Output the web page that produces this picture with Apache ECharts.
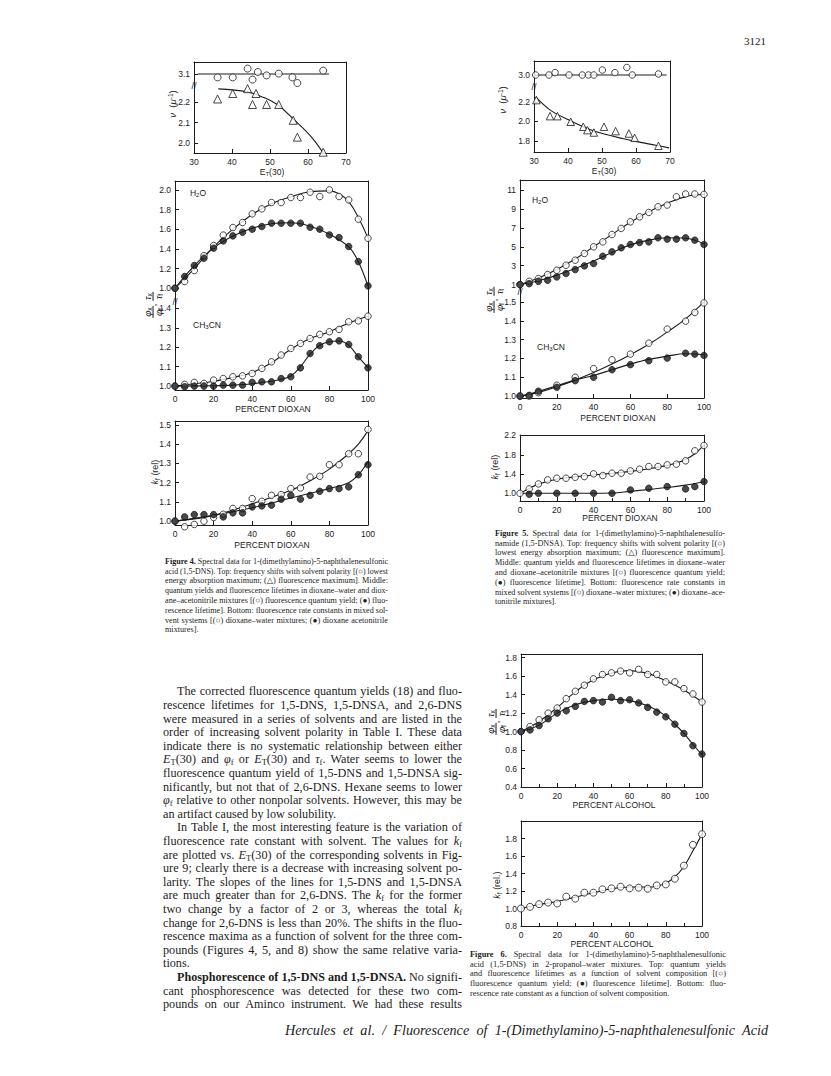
<!DOCTYPE html>
<html><head><meta charset="utf-8">
<script src="https://cdn.jsdelivr.net/npm/echarts@6/dist/echarts.min.js"></script>
<style>
html,body{margin:0;padding:0;background:#fff;}
#page{position:relative;width:831px;height:1076px;overflow:hidden;background:#fff;}
#chart{position:absolute;left:0;top:0;width:831px;height:1076px;}
.j{position:absolute;font-family:"Liberation Serif","DejaVu Serif",serif;color:#1c1c1c;white-space:nowrap;transform-origin:0 50%;}
.lab{position:absolute;font-family:"Liberation Sans","DejaVu Sans",sans-serif;color:#1c1c1c;white-space:nowrap;transform:translate(-50%,-50%);font-size:8.5px;}
.rot{transform:translate(-50%,-50%) rotate(-90deg);}
sub{font-size:70%;vertical-align:-0.25em;line-height:0;}
sup{font-size:70%;vertical-align:0.45em;line-height:0;}
.fr{display:inline-flex;flex-direction:column;align-items:center;vertical-align:middle;line-height:1.05;}
.fr .nu{border-bottom:1px solid #1c1c1c;padding:0 1px;}
</style></head>
<body><div id="page"><div id="chart"></div></div>
<script>
// ---------------- DATA ----------------
// Figure 4 (1,5-DNS) top: frequency vs ET(30)
const f4AbsEt = [36.2, 40.2, 44.1, 45.4, 46.8, 49.1, 52.3, 55.9, 57.2, 64.0];
const f4AbsNu = [3.083, 3.083, 3.127, 3.072, 3.11, 3.093, 3.102, 3.083, 3.055, 3.117];
const f4AbsFitEt = [31, 65.5];
const f4AbsFitNu = [3.1, 3.1];
const f4FlEt = [36.2, 40.2, 44.1, 45.4, 46.3, 49.1, 52.3, 56.1, 57.2, 64.0];
const f4FlNu = [2.216, 2.243, 2.267, 2.189, 2.243, 2.189, 2.189, 2.111, 2.028, 1.954];
const f4FlFitEt = [36.4, 44.1, 47.5, 51.9, 56.3, 60.7, 64.0];
const f4FlFitNu = [2.266, 2.251, 2.23, 2.189, 2.115, 2.033, 1.95];
// percent axis (dioxan / alcohol), 5 % steps
const pct = [0,5,10,15,20,25,30,35,40,45,50,55,60,65,70,75,80,85,90,95,100];
// Figure 4 middle
const f4H2OPhi = [1.0,1.068,1.18,1.33,1.434,1.54,1.617,1.668,1.756,1.807,1.871,1.871,1.922,1.922,1.976,1.932,2.0,1.932,1.898,1.702,1.508];
const f4H2OTau = [1.0,1.119,1.231,1.305,1.407,1.481,1.532,1.569,1.6,1.627,1.661,1.661,1.661,1.661,1.62,1.6,1.542,1.515,1.424,1.271,1.024];
const f4H2OPhiFitX = [0,10,20,30,40,50,60,70,80,85,90,95,100];
const f4H2OPhiFitY = [1.0,1.2,1.42,1.6,1.75,1.86,1.93,1.98,1.99,1.96,1.88,1.72,1.51];
const f4H2OTauFitX = [0,10,20,30,40,50,60,70,80,90,95,100];
const f4H2OTauFitY = [1.0,1.23,1.41,1.53,1.61,1.655,1.665,1.63,1.55,1.42,1.27,1.02];
const f4AcnPhi = [1.0,1.009,1.019,1.014,1.031,1.039,1.048,1.053,1.065,1.091,1.125,1.16,1.194,1.22,1.245,1.266,1.28,1.292,1.331,1.336,1.36];
const f4AcnTau = [1.0,0.997,1.0,1.0,1.0,1.005,1.005,1.005,1.019,1.022,1.022,1.039,1.048,1.094,1.168,1.208,1.228,1.233,1.214,1.151,1.094];
const f4AcnPhiFitX = [0,10,20,30,40,50,60,70,80,90,100];
const f4AcnPhiFitY = [1.0,1.012,1.025,1.045,1.07,1.12,1.19,1.245,1.28,1.325,1.36];
const f4AcnTauFitX = [0,20,30,40,50,55,60,65,70,75,80,85,90,95,100];
const f4AcnTauFitY = [1.0,1.002,1.005,1.012,1.025,1.035,1.052,1.1,1.165,1.21,1.228,1.232,1.21,1.15,1.095];
// Figure 4 bottom: kf (rel)
const f4KfWater = [1.0,0.971,0.983,1.0,1.019,1.036,1.066,1.066,1.117,1.103,1.134,1.138,1.169,1.172,1.229,1.233,1.293,1.293,1.35,1.35,1.476];
const f4KfAcn = [1.0,1.022,1.034,1.034,1.034,1.022,1.043,1.043,1.074,1.079,1.083,1.114,1.134,1.114,1.134,1.155,1.169,1.169,1.178,1.241,1.293];
const f4KfWaterFitX = [0,20,40,60,70,80,90,95,100];
const f4KfWaterFitY = [1.0,1.03,1.09,1.16,1.21,1.27,1.35,1.4,1.47];
const f4KfAcnFitX = [0,20,40,60,80,90,95,100];
const f4KfAcnFitY = [1.0,1.03,1.07,1.12,1.17,1.2,1.24,1.31];
// Figure 5 (1,5-DNSA) top
const f5AbsEt = [30.5,34.4,36.2,40.3,44.2,46.0,47.6,50.1,53.8,57.3,58.9,66.6];
const f5AbsNu = [3.0,3.0,3.024,3.0,3.0,3.0,3.0,3.05,3.024,3.075,3.0,3.01];
const f5AbsFitEt = [30, 69];
const f5AbsFitNu = [3.0, 3.0];
const f5FlEt = [30.7,34.7,36.9,40.8,44.5,45.7,47.6,50.6,54.0,57.9,59.6,66.6];
const f5FlNu = [2.217,2.054,2.054,1.997,1.946,1.912,1.888,1.946,1.902,1.878,1.834,1.753];
const f5FlFitEt = [30.5,35,40.3,46.2,51,56,61,65.8,69.7];
const f5FlFitNu = [2.25,2.11,2.014,1.922,1.87,1.827,1.79,1.759,1.732];
// Figure 5 middle
const f5H2OPhi = [1.0,1.35,1.64,2.06,2.52,3.05,3.58,4.29,5.0,5.52,6.3,6.94,7.64,8.17,8.63,9.23,9.41,10.29,10.58,10.58,10.54];
const f5H2OTau = [1.0,1.1,1.35,1.46,1.81,2.17,2.59,2.98,3.23,4.0,4.46,4.89,5.24,5.45,5.52,5.95,5.81,5.81,5.95,5.7,5.24];
const f5H2OFitX = [0,10,20,30,40,50,60,70,80,90,100];
const f5H2OPhiFitY = [1.0,1.7,2.6,3.7,5.0,6.3,7.6,8.7,9.6,10.3,10.55];
const f5H2OTauFitY = [1.0,1.4,2.0,2.7,3.5,4.4,5.2,5.7,5.95,5.9,5.3];
const f5AcnX = [0,5,10,20,30,40,50,60,70,80,90,95,100];
const f5AcnPhi = [1.0,1.0,1.018,1.058,1.1,1.146,1.193,1.223,1.281,1.356,1.398,1.444,1.495];
const f5AcnTau = [1.0,1.004,1.026,1.047,1.082,1.1,1.14,1.167,1.188,1.202,1.228,1.223,1.216];
const f5AcnFitX = [0,10,20,30,40,50,60,70,80,90,100];
const f5AcnPhiFitY = [1.0,1.02,1.05,1.085,1.125,1.17,1.22,1.275,1.34,1.41,1.5];
const f5AcnTauFitY = [1.0,1.025,1.055,1.085,1.11,1.14,1.17,1.195,1.212,1.225,1.22];
// Figure 5 bottom
const f5KfWater = [1.0,1.09,1.194,1.278,1.313,1.313,1.333,1.347,1.403,1.368,1.417,1.417,1.465,1.5,1.556,1.556,1.59,1.604,1.674,1.882,1.993];
const f5KfAcnX = [5,10,20,30,40,50,60,70,80,90,95,100];
const f5KfAcn = [0.98,1.0,1.0,1.0,1.0,1.0,1.069,1.104,1.139,1.09,1.139,1.243];
const f5KfWaterFitX = [0,5,10,20,30,40,50,60,70,80,85,90,95,100];
const f5KfWaterFitY = [1.0,1.1,1.19,1.29,1.34,1.38,1.415,1.455,1.51,1.58,1.63,1.7,1.82,2.0];
const f5KfAcnFitX = [0,10,20,30,40,50,60,70,80,90,100];
const f5KfAcnFitY = [1.0,1.0,1.0,1.0,1.0,1.005,1.04,1.08,1.12,1.17,1.24];
// Figure 6 (2-propanol-water)
const f6Phi = [1.0,1.055,1.127,1.2,1.255,1.356,1.436,1.502,1.571,1.618,1.636,1.655,1.636,1.673,1.618,1.618,1.538,1.538,1.465,1.407,1.32];
const f6Tau = [1.0,1.018,1.065,1.138,1.2,1.225,1.273,1.327,1.335,1.32,1.371,1.335,1.345,1.31,1.262,1.211,1.16,1.08,0.98,0.847,0.756];
const f6PhiFitX = [0,10,20,30,40,50,60,70,80,90,100];
const f6PhiFitY = [1.0,1.11,1.26,1.43,1.56,1.635,1.66,1.63,1.55,1.45,1.32];
const f6TauFitX = [0,10,20,30,40,50,60,70,80,85,90,95,100];
const f6TauFitY = [1.0,1.07,1.2,1.29,1.335,1.35,1.335,1.28,1.17,1.08,0.98,0.86,0.75];
const f6Kf = [1.0,1.019,1.049,1.068,1.057,1.136,1.113,1.181,1.181,1.219,1.23,1.249,1.23,1.238,1.226,1.264,1.275,1.34,1.49,1.728,1.849];
const f6KfFitX = [0,10,20,30,40,50,60,70,75,80,85,90,95,100];
const f6KfFitY = [1.0,1.045,1.08,1.13,1.18,1.225,1.245,1.245,1.255,1.29,1.36,1.48,1.66,1.85];
// tick labels
const etTicks = [30,40,50,60,70];
const pctTicks = [0,20,40,60,80,100];
const f4TopUpperTicks = [3.1];
const f4TopLowerTicks = [2.0,2.1,2.2];
const f4MidUpperTicks = [1.0,1.2,1.4,1.6,1.8,2.0];
const f4MidLowerTicks = [1.0,1.1,1.2,1.3,1.4];
const f4BotTicks = [1.0,1.1,1.2,1.3,1.4,1.5];
const f5TopUpperTicks = [3.0];
const f5TopLowerTicks = [1.8,2.0,2.2];
const f5MidUpperTicks = [1,3,5,7,9,11];
const f5MidLowerTicks = [1.0,1.1,1.2,1.3,1.4,1.5];
const f5BotTicks = [1.0,1.4,1.8,2.2];
const f6TopTicks = [0.4,0.6,0.8,1.0,1.2,1.4,1.6,1.8];
const f6BotTicks = [0.8,1.0,1.2,1.4,1.6,1.8];

// ---------------- CHART ----------------
const AX = '#1c1c1c';
const FONT = 'Liberation Sans, DejaVu Sans, sans-serif';
const option = {animation:false, grid:[], xAxis:[], yAxis:[], series:[]};
const dec1 = v => Number(v).toFixed(1);
const int0 = v => String(Math.round(v));
function addPanel(p){
  const g = option.grid.length;
  option.grid.push({left:p.left, top:p.top, width:p.width, height:p.height});
  const xi = option.xAxis.length;
  option.xAxis.push({
    gridIndex:g, type:'value', min:p.x[0], max:p.x[1], interval:p.x[2],
    position:p.xAt || 'bottom',
    axisLine:{show:true,onZero:false,lineStyle:{color:AX,width:1}},
    axisTick:{show:!!p.xLabels,inside:true,length:4,lineStyle:{color:AX}},
    minorTick:{show:!!p.xMinor,splitNumber:2,length:3,lineStyle:{color:AX}},
    axisLabel:{show:!!p.xLabels,color:AX,fontFamily:FONT,fontSize:8.5,margin:4},
    splitLine:{show:false}
  });
  if (p.topLine) option.xAxis.push({gridIndex:g,type:'value',min:p.x[0],max:p.x[1],position:'top',
    axisLine:{show:true,onZero:false,lineStyle:{color:AX,width:1}},axisTick:{show:false},axisLabel:{show:false},splitLine:{show:false}});
  const yi = option.yAxis.length;
  option.yAxis.push({
    gridIndex:g, type:'value', min:p.y[0], max:p.y[1], position:'left',
    axisLine:{show:true,onZero:false,lineStyle:{color:AX,width:1}},
    axisTick:{show:true,inside:true,length:4,customValues:p.yTicks,lineStyle:{color:AX}},
    axisLabel:{customValues:p.yTicks,formatter:p.yFmt||dec1,color:AX,fontFamily:FONT,fontSize:8.5,margin:4},
    splitLine:{show:false}
  });
  option.yAxis.push({gridIndex:g,type:'value',min:p.y[0],max:p.y[1],position:'right',
    axisLine:{show:true,onZero:false,lineStyle:{color:AX,width:1}},axisTick:{show:false},axisLabel:{show:false},splitLine:{show:false}});
  return {xi, yi};
}
const pts = (xs, ys) => xs.map((x,i)=>[x, ys[i]]);
function mark(ax, xs, ys, kind, size){
  const filled = kind === 'filled';
  option.series.push({type:'scatter', xAxisIndex:ax.xi, yAxisIndex:ax.yi, data:pts(xs,ys),
    symbol: kind === 'tri' ? 'triangle' : 'circle', symbolSize: size || 6.5, clip:false, silent:true, z:4,
    itemStyle:{color: filled ? AX : '#fff', borderColor:AX, borderWidth:1}});
}
function fit(ax, xs, ys){
  option.series.push({type:'line', xAxisIndex:ax.xi, yAxisIndex:ax.yi, data:pts(xs,ys), smooth:0.4,
    showSymbol:false, clip:false, silent:true, z:3, lineStyle:{color:AX,width:1.1}});
}

// Figure 4 top
const a4tu = addPanel({left:194,top:62,width:152,height:24,x:[30,70,10],xAt:'top',y:[3.04,3.16],yTicks:f4TopUpperTicks});
const a4tl = addPanel({left:194,top:86,width:152,height:67,x:[30,70,10],xLabels:true,y:[1.95,2.28],yTicks:f4TopLowerTicks});
fit(a4tu, f4AbsFitEt, f4AbsFitNu); mark(a4tu, f4AbsEt, f4AbsNu, 'open', 7);
fit(a4tl, f4FlFitEt, f4FlFitNu); mark(a4tl, f4FlEt, f4FlNu, 'tri', 8);
// Figure 4 middle
const a4mu = addPanel({left:175,top:181,width:193,height:121,x:[0,100,20],xAt:'top',y:[0.86,2.09],yTicks:f4MidUpperTicks});
const a4ml = addPanel({left:175,top:302,width:193,height:88,x:[0,100,20],xLabels:true,y:[0.98,1.433],yTicks:f4MidLowerTicks});
fit(a4mu, f4H2OPhiFitX, f4H2OPhiFitY); fit(a4mu, f4H2OTauFitX, f4H2OTauFitY);
mark(a4mu, pct, f4H2OPhi, 'open'); mark(a4mu, pct, f4H2OTau, 'filled');
fit(a4ml, f4AcnPhiFitX, f4AcnPhiFitY); fit(a4ml, f4AcnTauFitX, f4AcnTauFitY);
mark(a4ml, pct, f4AcnPhi, 'open'); mark(a4ml, pct, f4AcnTau, 'filled');
// Figure 4 bottom
const a4b = addPanel({left:175,top:421,width:193,height:104,x:[0,100,20],xLabels:true,topLine:true,y:[0.98,1.52],yTicks:f4BotTicks});
fit(a4b, f4KfWaterFitX, f4KfWaterFitY); fit(a4b, f4KfAcnFitX, f4KfAcnFitY);
mark(a4b, pct, f4KfWater, 'open'); mark(a4b, pct, f4KfAcn, 'filled');
// Figure 5 top
const a5tu = addPanel({left:534,top:61,width:136,height:26,x:[30,70,10],xAt:'top',y:[2.88,3.14],yTicks:f5TopUpperTicks});
const a5tl = addPanel({left:534,top:87,width:136,height:65,x:[30,70,10],xLabels:true,y:[1.69,2.35],yTicks:f5TopLowerTicks});
fit(a5tu, f5AbsFitEt, f5AbsFitNu); mark(a5tu, f5AbsEt, f5AbsNu, 'open', 6.5);
fit(a5tl, f5FlFitEt, f5FlFitNu); mark(a5tl, f5FlEt, f5FlNu, 'tri', 7.5);
// Figure 5 middle
const a5mu = addPanel({left:520,top:180,width:184,height:112,x:[0,100,20],xAt:'top',y:[0.22,12.06],yTicks:f5MidUpperTicks,yFmt:int0});
const a5ml = addPanel({left:520,top:292,width:184,height:106,x:[0,100,20],xLabels:true,y:[0.99,1.553],yTicks:f5MidLowerTicks});
fit(a5mu, f5H2OFitX, f5H2OPhiFitY); fit(a5mu, f5H2OFitX, f5H2OTauFitY);
mark(a5mu, pct, f5H2OPhi, 'open'); mark(a5mu, pct, f5H2OTau, 'filled');
fit(a5ml, f5AcnFitX, f5AcnPhiFitY); fit(a5ml, f5AcnFitX, f5AcnTauFitY);
mark(a5ml, f5AcnX, f5AcnPhi, 'open'); mark(a5ml, f5AcnX, f5AcnTau, 'filled');
// Figure 5 bottom
const a5b = addPanel({left:520,top:435,width:184,height:66,x:[0,100,20],xLabels:true,xMinor:true,topLine:true,y:[0.84,2.21],yTicks:f5BotTicks});
fit(a5b, f5KfWaterFitX, f5KfWaterFitY); fit(a5b, f5KfAcnFitX, f5KfAcnFitY);
mark(a5b, pct, f5KfWater, 'open'); mark(a5b, f5KfAcnX, f5KfAcn, 'filled');
// Figure 6 top
const a6t = addPanel({left:521,top:654,width:181,height:133,x:[0,100,20],xLabels:true,xMinor:true,topLine:true,y:[0.4,1.84],yTicks:f6TopTicks});
fit(a6t, f6PhiFitX, f6PhiFitY); fit(a6t, f6TauFitX, f6TauFitY);
mark(a6t, pct, f6Phi, 'open'); mark(a6t, pct, f6Tau, 'filled');
// Figure 6 bottom
const a6b = addPanel({left:521,top:821,width:181,height:105,x:[0,100,20],xLabels:true,xMinor:true,topLine:true,y:[0.8,2.0],yTicks:f6BotTicks});
fit(a6b, f6KfFitX, f6KfFitY); mark(a6b, pct, f6Kf, 'open', 7);

const chart = echarts.init(document.getElementById('chart'), null, {renderer:'svg', width:831, height:1076});
chart.setOption(option);

// ---------------- TEXT ----------------
const page = document.getElementById('page');
function lab(x, y, html, extra){
  const d = document.createElement('div'); d.className = 'lab' + (extra && extra.rot ? ' rot' : '');
  d.style.left = x + 'px'; d.style.top = y + 'px';
  if (extra && extra.size) d.style.fontSize = extra.size + 'px';
  d.innerHTML = html; page.appendChild(d); return d;
}
function lines(list, left, width, y0, step, size, opt){
  list.forEach((ln, i) => {
    const indent = ln.indent ? (opt && opt.indent || 0) : 0;
    const d = document.createElement('div'); d.className = 'j';
    d.style.fontSize = size + 'px'; d.style.lineHeight = (size*1.25) + 'px';
    if (opt && opt.italic) d.style.fontStyle = 'italic';
    d.style.left = (left + indent) + 'px';
    d.style.top = (y0 + i*step - size*0.625) + 'px';
    d.innerHTML = ln.h; page.appendChild(d);
    const target = width - indent;
    const nat = d.getBoundingClientRect().width;
    const spaces = (d.textContent.match(/ /g) || []).length;
    if (ln.last) { if (nat > target) d.style.transform = 'scaleX(' + (target/nat) + ')'; return; }
    if (nat < target && spaces > 0) d.style.wordSpacing = ((target - nat)/spaces) + 'px';
    else if (nat > target) d.style.transform = 'scaleX(' + (target/nat) + ')';
  });
}
const L = (h, o) => Object.assign({h}, o || {});

const pageNumber = [L('3121', {last:true})];
lines(pageNumber, 744, 24, 42, 0, 11);

const fig4Caption = [
  L('<b>Figure 4.</b> Spectral data for 1-(dimethylamino)-5-naphthalenesulfonic'),
  L('acid (1,5-DNS). Top: frequency shifts with solvent polarity [(○) lowest'),
  L('energy absorption maximum; (△) fluorescence maximum]. Middle:'),
  L('quantum yields and fluorescence lifetimes in dioxane–water and diox-'),
  L('ane–acetonitrile mixtures [(○) fluorescence quantum yield; (●) fluo-'),
  L('rescence lifetime]. Bottom: fluorescence rate constants in mixed sol-'),
  L('vent systems [(○) dioxane–water mixtures; (●) dioxane acetonitrile'),
  L('mixtures].', {last:true})
];
lines(fig4Caption, 165, 223, 562, 9.8, 8.2);

const fig5Caption = [
  L('<b>Figure 5.</b> Spectral data for 1-(dimethylamino)-5-naphthalenesulfo-'),
  L('namide (1,5-DNSA). Top: frequency shifts with solvent polarity [(○)'),
  L('lowest energy absorption maximum; (△) fluorescence maximum].'),
  L('Middle: quantum yields and fluorescence lifetimes in dioxane–water'),
  L('and dioxane–acetonitrile mixtures [(○) fluorescence quantum yield;'),
  L('(●) fluorescence lifetime]. Bottom: fluorescence rate constants in'),
  L('mixed solvent systems [(○) dioxane–water mixtures; (●) dioxane–ace-'),
  L('tonitrile mixtures].', {last:true})
];
lines(fig5Caption, 495, 230, 534, 9.8, 8.2);

const fig6Caption = [
  L('<b>Figure 6.</b> Spectral data for 1-(dimethylamino)-5-naphthalenesulfonic'),
  L('acid (1,5-DNS) in 2-propanol–water mixtures. Top: quantum yields'),
  L('and fluorescence lifetimes as a function of solvent composition [(○)'),
  L('fluorescence quantum yield; (●) fluorescence lifetime]. Bottom: fluo-'),
  L('rescence rate constant as a function of solvent composition.', {last:true})
];
lines(fig6Caption, 470, 256, 955, 9.8, 8.4);

const bodyText = [
  L('The corrected fluorescence quantum yields (18) and fluo-', {indent:true}),
  L('rescence lifetimes for 1,5-DNS, 1,5-DNSA, and 2,6-DNS'),
  L('were measured in a series of solvents and are listed in the'),
  L('order of increasing solvent polarity in Table I. These data'),
  L('indicate there is no systematic relationship between either'),
  L('<i>E</i><sub>T</sub>(30) and <i>φ</i><sub>f</sub> or <i>E</i><sub>T</sub>(30) and <i>τ</i><sub>f</sub>. Water seems to lower the'),
  L('fluorescence quantum yield of 1,5-DNS and 1,5-DNSA sig-'),
  L('nificantly, but not that of 2,6-DNS. Hexane seems to lower'),
  L('<i>φ</i><sub>f</sub> relative to other nonpolar solvents. However, this may be'),
  L('an artifact caused by low solubility.', {last:true}),
  L('In Table I, the most interesting feature is the variation of', {indent:true}),
  L('fluorescence rate constant with solvent. The values for <i>k</i><sub>f</sub>'),
  L('are plotted vs. <i>E</i><sub>T</sub>(30) of the corresponding solvents in Fig-'),
  L('ure 9; clearly there is a decrease with increasing solvent po-'),
  L('larity. The slopes of the lines for 1,5-DNS and 1,5-DNSA'),
  L('are much greater than for 2,6-DNS. The <i>k</i><sub>f</sub> for the former'),
  L('two change by a factor of 2 or 3, whereas the total <i>k</i><sub>f</sub>'),
  L('change for 2,6-DNS is less than 20%. The shifts in the fluo-'),
  L('rescence maxima as a function of solvent for the three com-'),
  L('pounds (Figures 4, 5, and 8) show the same relative varia-'),
  L('tions.', {last:true}),
  L('<b>Phosphorescence of 1,5-DNS and 1,5-DNSA.</b> No signifi-', {indent:true}),
  L('cant phosphorescence was detected for these two com-'),
  L('pounds on our Aminco instrument. We had these results')
];
lines(bodyText, 163, 299, 692, 13.6, 12.2, {indent:14});

const footer = [L('Hercules et al. / Fluorescence of 1-(Dimethylamino)-5-naphthalenesulfonic Acid')];
lines(footer, 285, 483, 1031, 0, 14.2, {italic:true});

// axis titles and in-plot labels
const phiTitle = '<span class="fr"><span class="nu"><i>φ</i><sub>x</sub></span><span><i>φ</i><sub>f</sub></span></span>,&nbsp;<span class="fr"><span class="nu"><i>τ</i><sub>x</sub></span><span><i>τ</i><sub>f</sub></span></span>';
const nuTitle = '<i>ν</i>&nbsp;&nbsp;(<i>μ</i><sup>-1</sup>)';
const kfTitle = '<i>k</i><sub>f</sub> (rel)';
lab(172, 104, nuTitle, {rot:true, size:9.5});
lab(272, 172, 'E<sub>T</sub>(30)');
lab(502, 100, nuTitle, {rot:true, size:9.5});
lab(604, 171, 'E<sub>T</sub>(30)');
lab(153, 305, phiTitle, {rot:true, size:9.5});
lab(198, 193, 'H<sub>2</sub>O');
lab(207, 325, 'CH<sub>3</sub>CN');
lab(273, 409, 'PERCENT DIOXAN');
lab(155, 472, kfTitle, {rot:true, size:9});
lab(272, 545, 'PERCENT DIOXAN');
lab(494, 300, phiTitle, {rot:true, size:9.5});
lab(540, 200, 'H<sub>2</sub>O');
lab(551, 347, 'CH<sub>3</sub>CN');
lab(618, 418, 'PERCENT DIOXAN');
lab(495, 467, kfTitle, {rot:true, size:9});
lab(620, 518, 'PERCENT DIOXAN');
lab(496, 722, phiTitle, {rot:true, size:9.5});
lab(614, 805, 'PERCENT ALCOHOL');
lab(497, 885, '<i>k</i><sub>f</sub> (rel.)', {rot:true, size:9});
lab(612, 944, 'PERCENT ALCOHOL');
// axis break marks
lab(194, 86, '//', {size:9});
lab(175, 302, '//', {size:9});
lab(534, 87, '//', {size:9});
lab(520, 292, '//', {size:9});
</script></body></html>
